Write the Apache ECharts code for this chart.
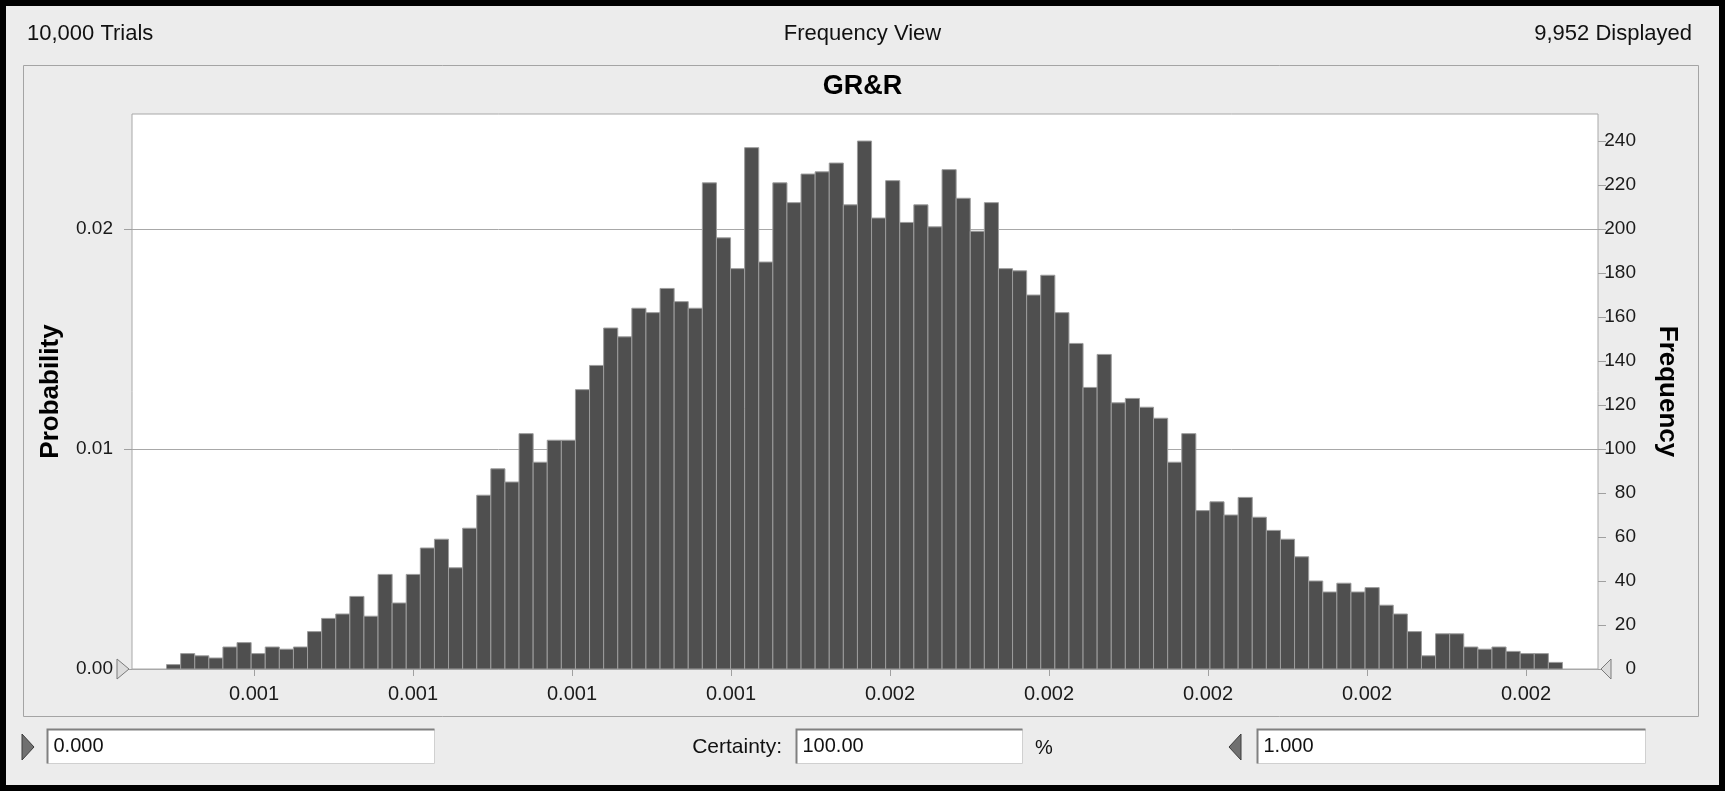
<!DOCTYPE html>
<html>
<head>
<meta charset="utf-8">
<title>GR&amp;R - Frequency View</title>
<script src="https://cdn.jsdelivr.net/npm/echarts@6/dist/echarts.min.js"></script>
<style>
  html, body { margin: 0; padding: 0; }
  #chart { width: 1725px; height: 791px; }
</style>
</head>
<body>
<div id="chart"></div>
<script>
// histogram: left edge of first bin and bin width (data units)
const binStart = 0.0012725
const binWidth = 0.000004434
const counts = [
  2, 7, 6, 5, 10, 12, 7, 10, 9, 10,
  17, 23, 25, 33, 24, 43, 30, 43, 55, 59,
  46, 64, 79, 91, 85, 107, 94, 104, 104, 127,
  138, 155, 151, 164, 162, 173, 167, 164, 221, 196,
  182, 237, 185, 221, 212, 225, 226, 230, 211, 240,
  205, 222, 203, 211, 201, 227, 214, 199, 212, 182,
  181, 170, 179, 162, 148, 128, 143, 121, 123, 119,
  114, 94, 107, 72, 76, 70, 78, 69, 63, 59,
  51, 40, 35, 39, 35, 37, 29, 25, 17, 6,
  16, 16, 10, 9, 10, 8, 7, 7, 3
]
const trials = 10000

const xMin = 0.00126164
const xMax = 0.00172264
const xTickValues = [0.0013, 0.00135, 0.0014, 0.00145, 0.0015, 0.00155, 0.0016, 0.00165, 0.0017]
const xTickLabels = ['0.001', '0.001', '0.001', '0.001', '0.002', '0.002', '0.002', '0.002', '0.002']
const probTicks = [0, 0.01, 0.02]
const probLabels = ['0.00', '0.01', '0.02']
const freqTicks = [0, 20, 40, 60, 80, 100, 120, 140, 160, 180, 200, 220, 240]
const freqMax = 252.3

const FONT = '"Liberation Sans", Arial, sans-serif'
const bins = counts.map((c, i) => [binStart + i * binWidth, binStart + (i + 1) * binWidth, c])

function labelFor(values, labels, v) {
  const i = values.findIndex((t) => Math.abs(t - v) < 1e-9)
  return i < 0 ? '' : labels[i]
}

function inputBox(x, y, w, h, text) {
  return [
    { type: 'rect', z: 1, shape: { x, y, width: w, height: h },
      style: { fill: '#fff', stroke: '#d0d0d0', lineWidth: 1 } },
    { type: 'polyline', z: 2, shape: { points: [[x, y + h], [x, y], [x + w, y]] },
      style: { stroke: '#808080', lineWidth: 2, fill: null } },
    { type: 'text', z: 3, style: { x: x + 6, y: y + h / 2, text, fill: '#111',
      font: '20px ' + FONT, verticalAlign: 'middle' } }
  ]
}

const chart = echarts.init(document.getElementById('chart'))

chart.setOption({
  animation: false,
  backgroundColor: '#ececec',
  textStyle: { fontFamily: FONT },
  title: [
    { text: '10,000 Trials', left: 27, top: 23, padding: 0, textStyle: { fontSize: 22, fontWeight: 'normal', color: '#111' } },
    { text: 'Frequency View', left: 'center', top: 23, padding: 0, textStyle: { fontSize: 22, fontWeight: 'normal', color: '#111' } },
    { text: '9,952 Displayed', right: 33, top: 23, padding: 0, textStyle: { fontSize: 22, fontWeight: 'normal', color: '#111' } },
    { text: 'GR&R', left: 'center', top: 73, padding: 0, textStyle: { fontSize: 27, fontWeight: 'bold', color: '#000' } }
  ],
  grid: {
    left: 132, right: 127, top: 114, bottom: 122,
    show: true, backgroundColor: '#fff', borderColor: '#a8a8a8', borderWidth: 1
  },
  xAxis: {
    type: 'value', min: xMin, max: xMax,
    axisLine: { show: false },
    splitLine: { show: false },
    axisTick: { customValues: xTickValues, length: 7, lineStyle: { color: '#a0a0a0' } },
    axisLabel: {
      customValues: xTickValues, margin: 15, fontSize: 20, color: '#1a1a1a',
      formatter: (v) => labelFor(xTickValues, xTickLabels, v)
    }
  },
  yAxis: [
    {
      type: 'value', min: 0, max: freqMax / trials,
      name: 'Probability', nameLocation: 'middle', nameGap: 68,
      nameTextStyle: { fontSize: 26, fontWeight: 'bold', color: '#000' },
      axisLine: { show: false },
      axisTick: { customValues: probTicks, length: 8, lineStyle: { color: '#a0a0a0' } },
      axisLabel: {
        customValues: probTicks, margin: 19, fontSize: 19, color: '#1a1a1a',
        formatter: (v) => labelFor(probTicks, probLabels, v)
      },
      interval: 0.01,
      splitLine: { lineStyle: { color: '#a8a8a8', width: 1 } }
    },
    {
      type: 'value', min: 0, max: freqMax, position: 'right',
      name: 'Frequency', nameLocation: 'middle', nameGap: 56, nameRotate: -90,
      nameTextStyle: { fontSize: 26, fontWeight: 'bold', color: '#000' },
      axisLine: { show: false },
      axisTick: { customValues: freqTicks, length: 8, lineStyle: { color: '#a0a0a0' } },
      axisLabel: { customValues: freqTicks, margin: 38, align: 'right', fontSize: 19, color: '#1a1a1a' },
      splitLine: { show: false }
    }
  ],
  series: [
    {
      type: 'custom',
      yAxisIndex: 1,
      data: bins,
      encode: { x: [0, 1], y: 2 },
      renderItem: (params, api) => {
        const p0 = api.coord([api.value(0), api.value(2)])
        const p1 = api.coord([api.value(1), 0])
        return {
          type: 'rect',
          shape: { x: p0[0], y: p0[1], width: p1[0] - p0[0], height: p1[1] - p0[1] },
          style: { fill: '#4f4f4f', stroke: '#9c9c9c', lineWidth: 1 }
        }
      }
    }
  ],
  graphic: [
    // window frame
    { type: 'rect', z: -10, shape: { x: 0, y: 0, width: 1725, height: 791 },
      style: { fill: null, stroke: '#000', lineWidth: 12 } },
    { type: 'rect', z: -10, shape: { x: 23.5, y: 65.5, width: 1675, height: 651 },
      style: { fill: null, stroke: '#a4a4a4', lineWidth: 1 } },
    // grabbers at the zero line
    { type: 'polygon', z: 5, shape: { points: [[117, 659], [129, 669], [117, 679]] },
      style: { fill: '#dcdcdc', stroke: '#7a7a7a', lineWidth: 1 } },
    { type: 'polygon', z: 5, shape: { points: [[1611, 659], [1601, 669], [1611, 679]] },
      style: { fill: '#dcdcdc', stroke: '#7a7a7a', lineWidth: 1 } },
    // bottom controls
    { type: 'polygon', shape: { points: [[22, 734], [34, 747], [22, 760]] },
      style: { fill: '#707070', stroke: '#3c3c3c', lineWidth: 1 } },
    ...inputBox(47.5, 729.5, 387, 34, '0.000'),
    { type: 'text', style: { x: 782, y: 747, text: 'Certainty:', fill: '#111',
      font: '21px ' + FONT, align: 'right', verticalAlign: 'middle' } },
    ...inputBox(796.5, 729.5, 226, 34, '100.00'),
    { type: 'text', style: { x: 1035, y: 748, text: '%', fill: '#111',
      font: '20px ' + FONT, verticalAlign: 'middle' } },
    { type: 'polygon', shape: { points: [[1241, 734], [1229, 747], [1241, 760]] },
      style: { fill: '#707070', stroke: '#3c3c3c', lineWidth: 1 } },
    ...inputBox(1257.5, 729.5, 388, 34, '1.000')
  ]
})
</script>
</body>
</html>
